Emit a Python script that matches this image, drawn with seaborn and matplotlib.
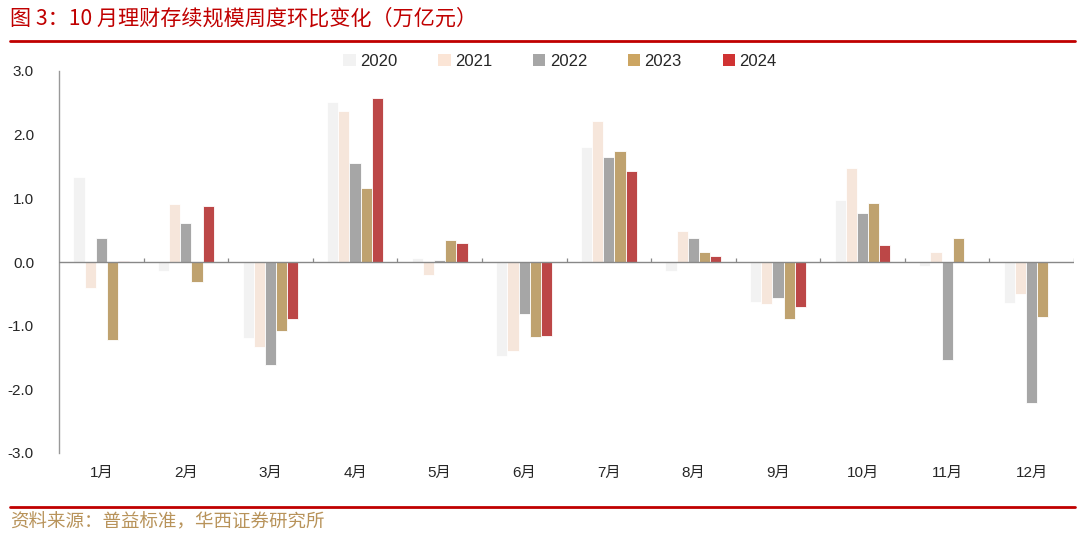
import numpy as np
import pandas as pd
import matplotlib
matplotlib.use("Agg")
import matplotlib.pyplot as plt
import seaborn as sns
from matplotlib.patches import Patch

months = ["1月", "2月", "3月", "4月", "5月", "6月", "7月", "8月", "9月", "10月", "11月", "12月"]
years = ["2020", "2021", "2022", "2023", "2024"]
v2020 = [1.34, -0.14, -1.19, 2.52, 0.06, -1.47, 1.81, -0.14, -0.63, 0.97, -0.07, -0.64]
v2021 = [-0.41, 0.91, -1.33, 2.37, -0.21, -1.40, 2.22, 0.49, -0.66, 1.48, 0.16, -0.50]
v2022 = [0.37, 0.61, -1.62, 1.55, 0.03, -0.81, 1.65, 0.38, -0.57, 0.77, -1.54, -2.22]
v2023 = [-1.23, -0.32, -1.09, 1.16, 0.34, -1.18, 1.75, 0.15, -0.90, 0.93, 0.38, -0.87]
v2024 = [0.02, 0.88, -0.89, 2.57, 0.30, -1.16, 1.43, 0.10, -0.70, 0.27, np.nan, np.nan]
yticks = [3.0, 2.0, 1.0, 0.0, -1.0, -2.0, -3.0]
title = "图 3：10 月理财存续规模周度环比变化（万亿元）"
source = "资料来源：普益标准，华西证券研究所"

colors = ["#F2F2F2", "#FBE5D6", "#A6A6A6", "#CCA562", "#D03333"]

series = [v2020, v2021, v2022, v2023, v2024]
rows = []
for y, vals in zip(years, series):
    for m, v in zip(months, vals):
        rows.append({"month": m, "year": y, "value": v})
df = pd.DataFrame(rows)

sns.set_theme(style="white")
plt.rcParams["font.family"] = ["Noto Sans CJK SC", "DejaVu Sans"]

fig = plt.figure(figsize=(10.8, 5.39), dpi=100)
ax = fig.add_axes([59 / 1080, 1 - 453 / 539, (1074 - 59) / 1080, (453 - 71) / 539])

sns.barplot(data=df, x="month", y="value", hue="year", order=months, hue_order=years,
            palette=colors, width=0.66, ax=ax, edgecolor="white", linewidth=0.6,
            errorbar=None, legend=False)

ax.set_ylim(-3.0, 3.0)
ax.set_xlim(-0.5, len(months) - 0.5)
ax.set_yticks(yticks)
ax.set_yticklabels([f"{t:.1f}" for t in yticks], fontsize=11, family=["Liberation Sans", "DejaVu Sans"])
ax.set_xlabel("")
ax.set_ylabel("")
ax.tick_params(axis="x", length=0, labelsize=11, pad=9)
ax.tick_params(axis="y", length=4, width=0.8, color="#999999", direction="out", pad=14)
for lab in ax.get_xticklabels():
    lab.set_fontfamily(["Liberation Sans", "Noto Sans CJK SC"])

for s in ["top", "right", "bottom"]:
    ax.spines[s].set_visible(False)
ax.spines["left"].set_color("#999999")
ax.spines["left"].set_linewidth(1.0)

ax.axhline(0, color="#888888", lw=1.0, zorder=3)
bounds = np.arange(0.5, len(months), 1.0)
ax.vlines(bounds, 0, 0.07, color="#888888", lw=0.9, zorder=3)

handles = [Patch(facecolor=c, edgecolor="none") for c in colors]
fig.legend(handles, years, loc="center", bbox_to_anchor=(560 / 1080, 1 - 61 / 539),
           ncol=5, frameon=False, handlelength=0.75, handleheight=0.75,
           handletextpad=0.25, columnspacing=2.45,
           prop={"family": ["Liberation Sans", "DejaVu Sans"], "size": 12})

fig.text(10 / 1080, 1 - 19 / 539, title, fontsize=15.2, color="#C00000", va="center", ha="left",
         family=["Noto Sans CJK SC", "DejaVu Sans"])
fig.add_artist(plt.Line2D([10 / 1080, 1075 / 1080], [1 - 41 / 539, 1 - 41 / 539],
                          color="#C00000", lw=2.0, transform=fig.transFigure))
fig.add_artist(plt.Line2D([10 / 1080, 1075 / 1080], [1 - 507 / 539, 1 - 507 / 539],
                          color="#C00000", lw=2.0, transform=fig.transFigure))
fig.text(10 / 1080, 1 - 522 / 539, source, fontsize=13.3, color="#B8935A", va="center", ha="left",
         family=["Noto Sans CJK SC", "DejaVu Sans"])

fig.savefig("out.png", dpi=100)
